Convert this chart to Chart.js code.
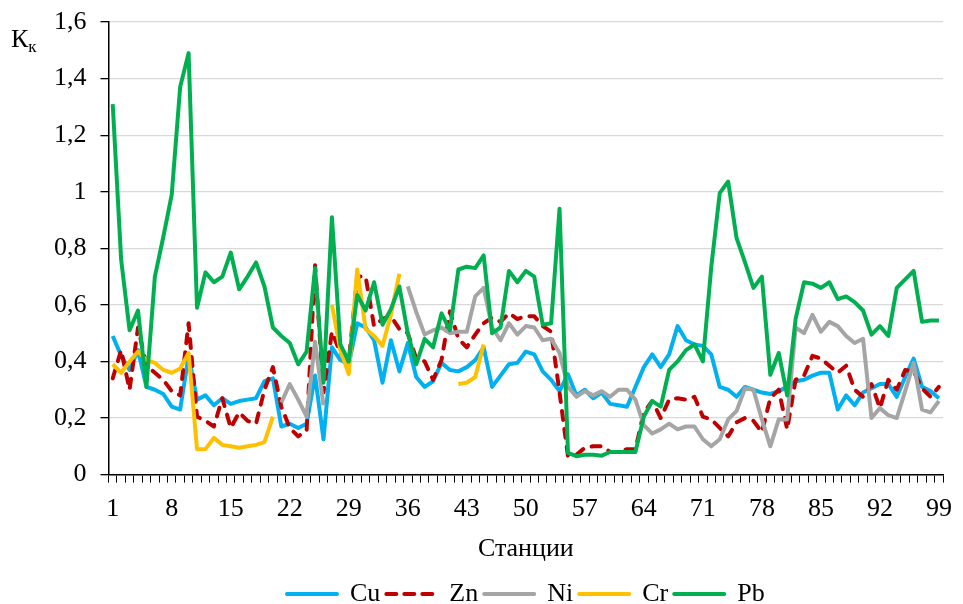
<!DOCTYPE html>
<html>
<head>
<meta charset="utf-8">
<script src="https://cdn.jsdelivr.net/npm/chart.js@4/dist/chart.umd.min.js"></script>
<style>
html,body{margin:0;padding:0;background:#fff;}
#wrap{width:963px;height:604px;position:relative;}
</style>
</head>
<body>
<div id="wrap"><canvas id="c" width="963" height="604"></canvas></div>
<script>
const stations = [];
for (let i = 1; i <= 99; i++) stations.push(String(i));

const cu = [0.49,0.42,0.37,0.44,0.31,0.30,0.285,0.24,0.23,0.42,
0.265,0.28,0.245,0.27,0.25,0.26,0.265,0.27,0.33,0.34,
0.17,0.18,0.165,0.18,0.35,0.125,0.45,0.405,0.39,0.535,
0.52,0.475,0.325,0.475,0.365,0.465,0.345,0.31,0.33,0.395,
0.37,0.365,0.38,0.405,0.45,0.31,0.35,0.39,0.395,0.435,
0.425,0.365,0.335,0.295,0.355,0.28,0.30,0.27,0.29,0.25,
0.245,0.24,0.31,0.38,0.425,0.38,0.425,0.525,0.475,0.46,
0.455,0.425,0.31,0.30,0.275,0.31,0.30,0.29,0.285,0.295,
0.31,0.33,0.335,0.35,0.36,0.36,0.23,0.28,0.245,0.29,
0.305,0.32,0.32,0.275,0.345,0.41,0.31,0.295,0.27];

const zn = [0.34,0.44,0.30,0.52,0.385,0.36,0.335,0.295,0.28,0.535,
0.205,0.19,0.17,0.27,0.165,0.22,0.19,0.18,0.30,0.38,
0.24,0.165,0.135,0.155,0.74,0.29,0.505,0.43,0.40,0.70,
0.70,0.525,0.55,0.56,0.515,0.50,0.41,0.40,0.335,0.405,
0.577,0.48,0.45,0.495,0.535,0.555,0.54,0.57,0.55,0.56,
0.56,0.525,0.505,0.29,0.065,0.07,0.095,0.10,0.10,0.08,
0.08,0.09,0.09,0.22,0.26,0.20,0.265,0.27,0.265,0.275,
0.205,0.195,0.165,0.135,0.185,0.20,0.19,0.15,0.27,0.30,
0.16,0.335,0.35,0.42,0.41,0.385,0.36,0.385,0.30,0.275,
0.32,0.235,0.335,0.30,0.37,0.365,0.305,0.275,0.31];

const ni = [null,null,null,null,null,null,null,null,null,null,
null,null,null,null,null,null,null,null,null,null,
0.255,0.32,0.265,0.205,0.47,0.245,null,null,null,null,
null,null,null,null,null,0.665,0.575,0.495,0.51,0.52,
0.50,0.505,0.505,0.63,0.66,0.52,0.475,0.535,0.495,0.525,
0.52,0.475,0.48,0.43,0.31,0.275,0.295,0.28,0.295,0.275,
0.30,0.30,0.265,0.175,0.145,0.16,0.18,0.16,0.17,0.17,
0.125,0.10,0.125,0.195,0.225,0.305,0.30,0.195,0.10,0.195,
0.195,0.52,0.50,0.565,0.505,0.54,0.525,0.49,0.465,0.48,
0.20,0.235,0.21,0.20,0.295,0.395,0.23,0.22,0.26];

const cr = [0.39,0.36,0.40,0.435,0.405,0.395,0.37,0.36,0.375,0.43,
0.09,0.09,0.13,0.105,0.10,0.095,0.10,0.105,0.115,0.205,
null,null,null,null,null,null,0.60,0.44,0.355,0.725,
0.515,0.49,0.455,0.565,0.71,null,null,null,null,null,
null,0.32,0.325,0.345,0.46,null,null,null,null,null,
null,null,null,null,null,null,null,null,null,null,
null,null,null,null,null,null,null,null,null,null,
null,null,null,null,null,null,null,null,null,null,
null,null,null,null,null,null,null,null,null,null,
null,null,null,null,null,null,null,null,null];

const pb = [1.31,0.76,0.51,0.58,0.31,0.70,0.84,0.99,1.37,1.49,
0.59,0.715,0.68,0.70,0.785,0.655,0.70,0.75,0.665,0.52,
0.49,0.465,0.39,0.435,0.73,0.325,0.91,0.46,0.40,0.635,
0.58,0.68,0.53,0.585,0.665,0.50,0.39,0.48,0.45,0.57,
0.51,0.725,0.735,0.73,0.775,0.50,0.52,0.72,0.68,0.72,
0.70,0.53,0.535,0.94,0.077,0.065,0.07,0.07,0.067,0.08,
0.08,0.08,0.08,0.205,0.26,0.24,0.37,0.40,0.44,0.46,
0.40,0.735,0.995,1.036,0.836,0.75,0.66,0.70,0.353,0.43,
0.28,0.55,0.68,0.675,0.66,0.68,0.62,0.63,0.61,0.58,
0.495,0.525,0.49,0.66,0.69,0.72,0.54,0.545,0.545];

const seriesNames = ['Cu','Zn','Ni','Cr','Pb'];
const yTicks = [0,0.2,0.4,0.6,0.8,1,1.2,1.4,1.6];
const xTickEvery = 7;

const FONT = '"Liberation Serif", "Times New Roman", serif';

function ds(label, data, color, order, dash) {
  return {
    label: label, data: data, borderColor: color, backgroundColor: color,
    borderWidth: 4, pointRadius: 0, pointHoverRadius: 0, tension: 0,
    spanGaps: false, fill: false, order: order,
    borderDash: dash || [], borderCapStyle: dash ? 'round' : 'butt',
    borderJoinStyle: 'round'
  };
}

const kkPlugin = {
  id: 'kk',
  afterDraw(chart) {
    const ctx = chart.ctx;
    ctx.save();
    ctx.fillStyle = '#000';
    ctx.textBaseline = 'alphabetic';
    ctx.font = '26px ' + FONT;
    ctx.fillText('К', 11, 47);
    const w = ctx.measureText('К').width;
    ctx.font = '17px ' + FONT;
    ctx.fillText('к', 11 + w, 52);
    ctx.restore();
  }
};

new Chart(document.getElementById('c'), {
  type: 'line',
  data: {
    labels: stations,
    datasets: [
      ds(seriesNames[0], cu, '#00B0F0', 5),
      ds(seriesNames[1], zn, '#C00000', 4, [9, 9]),
      ds(seriesNames[2], ni, '#A5A5A5', 3),
      ds(seriesNames[3], cr, '#FFC000', 2),
      ds(seriesNames[4], pb, '#00B050', 1)
    ]
  },
  options: {
    responsive: false,
    animation: false,
    devicePixelRatio: 1,
    layout: { padding: { top: 22, left: 40, right: 15, bottom: -13 } },
    plugins: {
      tooltip: { enabled: false },
      legend: {
        position: 'bottom',
        fullSize: false,
        labels: {
          boxWidth: 50, boxHeight: 0, padding: 6,
          color: '#000',
          font: { family: FONT, size: 26 },
          sort: (a, b) => a.datasetIndex - b.datasetIndex
        }
      }
    },
    scales: {
      x: {
        type: 'category',
        offset: true,
        grid: { offset: true, drawOnChartArea: false, drawTicks: true, tickLength: 8, color: '#000', tickColor: '#000', lineWidth: 1 },
        border: { color: '#000', width: 1.5 },
        ticks: {
          autoSkip: false, maxRotation: 0, minRotation: 0, padding: 11,
          color: '#000', font: { family: FONT, size: 26 },
          callback: function(v, i) { return i % xTickEvery === 0 ? stations[i] : ''; }
        },
        title: { display: true, text: 'Станции', color: '#000', font: { family: FONT, size: 26 }, padding: { top: -2, bottom: 10 } }
      },
      y: {
        min: 0, max: 1.6,
        afterBuildTicks: function(s) { s.ticks = yTicks.map(v => ({ value: v })); },
        afterFit: function(s) { s.paddingTop = 0; s.paddingBottom = 0; },
        grid: { color: '#D9D9D9', lineWidth: 1.3, tickLength: 8, tickColor: '#000', drawTicks: true },
        border: { color: '#000', width: 1.5 },
        ticks: {
          padding: 14, color: '#000', font: { family: FONT, size: 26 },
          callback: function(v) { const s = (Math.round(v * 10) / 10).toFixed(1); return s.endsWith('.0') ? s.slice(0, -2) : s.replace('.', ','); }
        }
      }
    }
  },
  plugins: [kkPlugin]
});
</script>
</body>
</html>
